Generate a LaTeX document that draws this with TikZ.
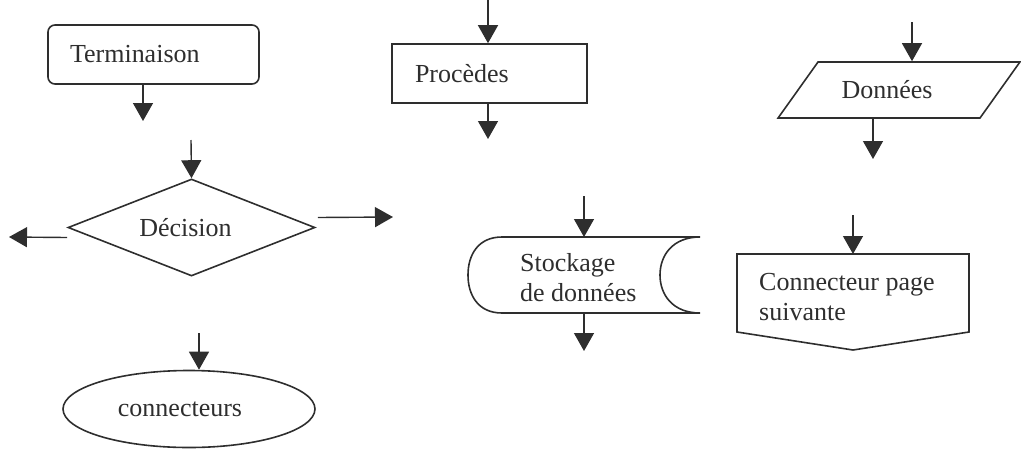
\documentclass[tikz,border=0pt]{standalone}
\usepackage{fontspec}
\setmainfont{Liberation Serif}
\usetikzlibrary{shapes.geometric,arrows.meta,calc}
\definecolor{ink}{HTML}{2E2E2E}
\tikzset{
  ln/.style={draw=ink, line width=1.6pt},
  arr/.style={draw=ink, line width=1.4pt, -{Triangle[width=20pt,length=18pt]}},
  lbl/.style={text=ink, font=\fontsize{26}{30}\selectfont, inner sep=0pt},
}
\begin{document}
\begin{tikzpicture}[x=1pt,y=-1pt]
\useasboundingbox (0,0) rectangle (1021,448);

% Terminaison
\node[ln, lbl, rounded corners=7pt, minimum height=59pt, text width=167pt, inner xsep=22pt, align=left] (term) at (153.5,54.5) {Terminaison};
\coordinate (t1) at (143,121);
\draw[arr] (term.south -| t1) -- (t1);

% Decision
\node[ln, lbl, diamond, aspect=2.5, minimum width=247pt, minimum height=97pt] (dec) at (191.5,227.5) {\hspace*{-12pt}Décision};
\coordinate (d0) at (191,140);
\draw[arr] (d0) -- (dec.north);
\coordinate (dl) at (9,237);
\draw[arr] ($(dec.west)+(0,10)$) -- (dl);
\coordinate (dr) at (393,217);
\draw[arr] ($(dec.east)+(2,-10)$) -- (dr);

% connecteurs
\node[ln, lbl, ellipse, minimum width=252pt, minimum height=77pt] (conn) at (189,409) {\hspace*{-18pt}connecteurs};
\coordinate (c0) at (199,333);
\draw[arr] (c0) -- (conn.north -| c0);

% Procedes
\node[ln, lbl, minimum height=59pt, text width=149pt, inner xsep=23pt, align=left] (proc) at (489.5,73.5) {Procèdes};
\coordinate (p0) at (488,0);
\draw[arr] (p0) -- (proc.north -| p0);
\coordinate (p1) at (488,139);
\draw[arr] (proc.south -| p1) -- (p1);

% Donnees
\node[ln, lbl, trapezium, trapezium left angle=48, trapezium right angle=132, trapezium stretches=true, minimum width=242pt, minimum height=56pt] (don) at (899,90) {\hspace*{-24pt}Données};
\coordinate (dn0) at (912,22);
\draw[arr] (dn0) -- (don.north -| dn0);
\coordinate (dn1) at (873,159);
\draw[arr] (don.south -| dn1) -- (dn1);

% Stockage de donnees
\node[lbl, anchor=west, align=left] (stk) at (520,278) {Stockage\\de données};
\draw[ln] (502,237) -- (700,237)
  .. controls (673,237) and (660,255) .. (660,275)
  .. controls (660,295) and (673,313) .. (700,313)
  -- (502,313)
  .. controls (478,313) and (468,295) .. (468,275)
  .. controls (468,255) and (478,237) .. (502,237) -- cycle;
\coordinate (s0) at (584,196);
\coordinate (sn) at (584,237);
\coordinate (ss) at (584,313);
\coordinate (s1) at (584,351);
\draw[arr] (s0) -- (sn);
\draw[arr] (ss) -- (s1);

% Connecteur page suivante
\node[lbl, anchor=west, align=left] (cps) at (759,297) {Connecteur page\\suivante};
\draw[ln] (737,254) -- (969,254) -- (969,332) -- (853,350) -- (737,332) -- cycle;
\coordinate (cp0) at (853,215);
\coordinate (cpn) at (853,254);
\draw[arr] (cp0) -- (cpn);
\end{tikzpicture}
\end{document}
